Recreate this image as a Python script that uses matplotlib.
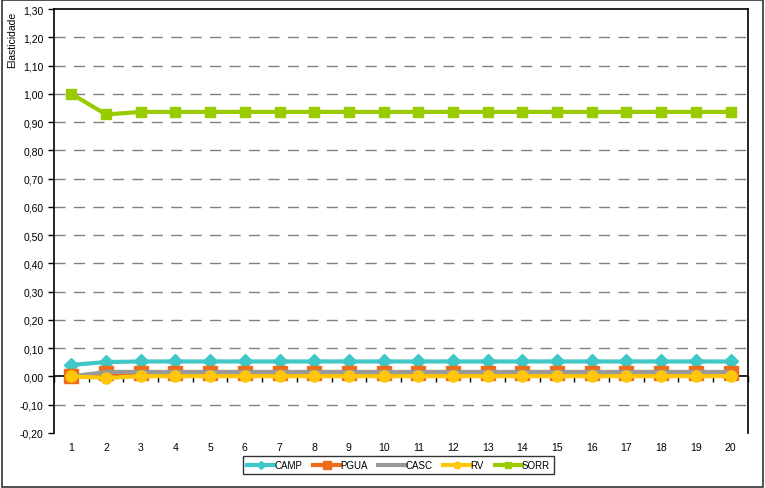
import numpy as np
import matplotlib
matplotlib.use('Agg')
from matplotlib import pyplot as plt
from matplotlib.ticker import FuncFormatter

# data
periods = list(range(1, 21))
camp = [0.041, 0.051] + [0.053] * 18
pgua = [0.0] + [0.012] * 19
casc = [0.0] + [0.016] * 19
rv = [0.0, -0.005] + [0.001] * 18
sorr = [1.00, 0.927] + [0.936] * 18

series = [
    ('CAMP', camp, '#40C8C8', 'D', 7),
    ('PGUA', pgua, '#EE6C1A', 's', 9.5),
    ('CASC', casc, '#999999', None, 0),
    ('RV', rv, '#FFC60A', 'o', 8),
    ('SORR', sorr, '#99CC00', 's', 7),
]

plt.rcParams['font.family'] = ['Liberation Sans', 'DejaVu Sans']

fig = plt.figure(figsize=(7.65, 4.89), dpi=100)
ax = fig.add_axes([0.0706, 0.1125, 0.907, 0.867])

x = np.arange(len(periods))
for name, vals, color, marker, ms in series:
    ax.plot(x, vals, color=color, lw=3, marker=marker, ms=ms,
            mec=color, mfc=color, label=name, zorder=3)

ax.set_xlim(-0.5, len(periods) - 0.5)
ax.set_ylim(-0.20, 1.30)
ax.set_yticks(np.arange(-0.20, 1.301, 0.10))
ax.yaxis.set_major_formatter(FuncFormatter(lambda v, p: ('%.2f' % v).replace('.', ',')))

# dashed gridlines, solid axis line at zero
for v in np.arange(-0.10, 1.25, 0.10):
    if abs(v) > 1e-6:
        ax.axhline(v, color='#808080', lw=1, dashes=(8, 6), zorder=1)
ax.spines['bottom'].set_position(('data', 0))
for s in ax.spines.values():
    s.set_linewidth(1.2)
    s.set_color('black')

# category axis: ticks between categories on the zero line, labels under the plot
ax.set_xticks(np.arange(-0.5, len(periods), 1.0))
ax.tick_params(axis='x', length=4, direction='out', width=1, labelbottom=False)
for xi, p in zip(x, periods):
    ax.text(xi, -0.25, str(p), ha='center', va='center', fontsize=7.5, clip_on=False)
ax.tick_params(axis='y', labelsize=7.5, length=4, width=1)

fig.text(0.016, 0.975, 'Elasticidade', rotation=90, ha='center', va='top', fontsize=7.5)

leg = fig.legend(loc='center', bbox_to_anchor=(0.521, 0.047), ncol=5, fontsize=7,
                 frameon=True, fancybox=False, edgecolor='black', handlelength=2.8,
                 handletextpad=0.0, columnspacing=1.1, borderpad=0.45, markerscale=0.6)
leg.get_frame().set_linewidth(1.0)

# outer border
fig.patches.append(plt.Rectangle((0.002, 0.003), 0.996, 0.994, transform=fig.transFigure,
                                 fill=False, edgecolor='#333333', lw=1.2))

fig.savefig('out.png', dpi=100)
